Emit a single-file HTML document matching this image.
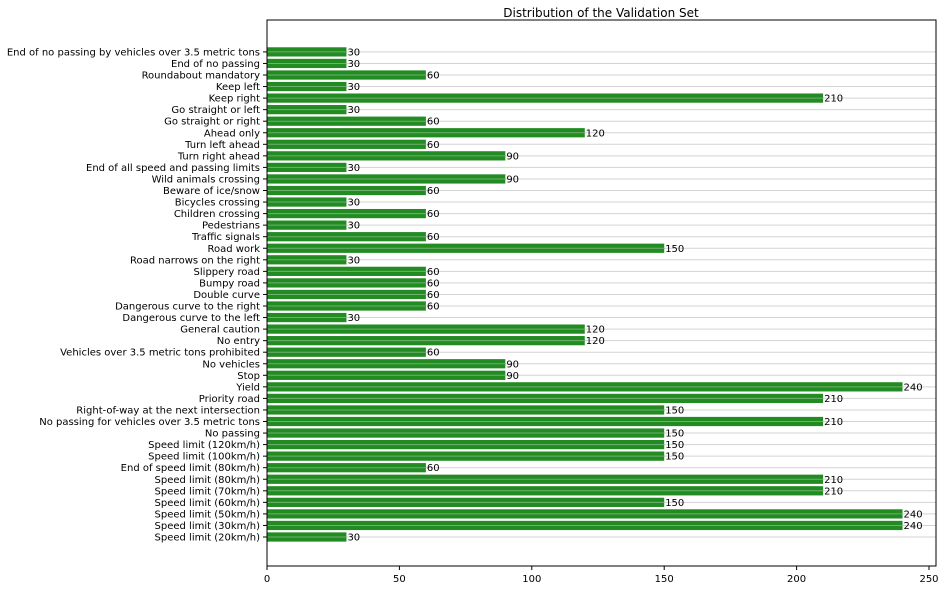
<!DOCTYPE html>
<html><head><meta charset="utf-8"><style>
body{margin:0;background:#fff;}
svg{font-family:"DejaVu Sans","Liberation Sans",sans-serif;}
</style></head><body>
<svg id="c" width="947" height="590" xmlns="http://www.w3.org/2000/svg">
<rect width="947" height="590" fill="#fff"/>
<text x="601" y="17" font-size="12" text-anchor="middle">Distribution of the Validation Set</text>
<g id="grid"></g><g id="bars"></g><g id="labels"></g><g id="ticks"></g>
<rect x="267" y="20" width="669" height="546" fill="none" stroke="#000" stroke-width="1"/>
</svg>
<script>
const categories=["Speed limit (20km/h)","Speed limit (30km/h)","Speed limit (50km/h)","Speed limit (60km/h)","Speed limit (70km/h)","Speed limit (80km/h)","End of speed limit (80km/h)","Speed limit (100km/h)","Speed limit (120km/h)","No passing","No passing for vehicles over 3.5 metric tons","Right-of-way at the next intersection","Priority road","Yield","Stop","No vehicles","Vehicles over 3.5 metric tons prohibited","No entry","General caution","Dangerous curve to the left","Dangerous curve to the right","Double curve","Bumpy road","Slippery road","Road narrows on the right","Road work","Traffic signals","Pedestrians","Children crossing","Bicycles crossing","Beware of ice/snow","Wild animals crossing","End of all speed and passing limits","Turn right ahead","Turn left ahead","Ahead only","Go straight or right","Go straight or left","Keep right","Keep left","Roundabout mandatory","End of no passing","End of no passing by vehicles over 3.5 metric tons"];
const counts=[30,240,240,150,210,210,60,150,150,150,210,150,210,240,90,90,60,120,120,30,60,60,60,60,30,150,60,30,60,30,60,90,30,90,60,120,60,30,210,30,60,30,30];
const xTicks=[0,50,100,150,200,250];
const NS="http://www.w3.org/2000/svg";
const x0=267,sx=2.648;
const X=v=>x0+v*sx;
const Y=i=>537-11.55*i;
const bh=9.24;
function mk(t,a,p){const e=document.createElementNS(NS,t);for(const k in a)e.setAttribute(k,a[k]);document.getElementById(p).appendChild(e);return e;}
categories.forEach((c,i)=>{
  const y=Y(i);
  const r=mk('rect',{x:X(0),y:y-bh/2,width:X(counts[i])-X(0),height:bh,fill:'#228b22'},'bars');
  
  
  const g=mk('line',{x1:267,x2:936,y1:y,y2:y,stroke:'#d3d3d3','stroke-width':1},'grid');
  
  
  const gl=mk('line',{x1:X(0),x2:X(counts[i]),y1:y,y2:y,stroke:'#6fb06f','stroke-width':1},'bars');
  
  
  const v=mk('text',{x:X(counts[i])+1,y:y+3.5,'font-size':10},'labels');
  v.textContent=counts[i];
  
  
  const l=mk('text',{x:260,y:y+3.5,'font-size':10,'text-anchor':'end'},'labels');
  l.textContent=c;
  
  
  const tk=mk('line',{x1:263,x2:267,y1:y,y2:y,stroke:'#000'},'ticks');
  
  
});
xTicks.forEach(t=>{
  const tk=mk('line',{x1:X(t),x2:X(t),y1:566,y2:570,stroke:'#000'},'ticks');
  
  
  const l=mk('text',{x:X(t),y:582,'font-size':10,'text-anchor':'middle'},'ticks');
  l.textContent=t;
  
  
});
</script>
</body></html>
